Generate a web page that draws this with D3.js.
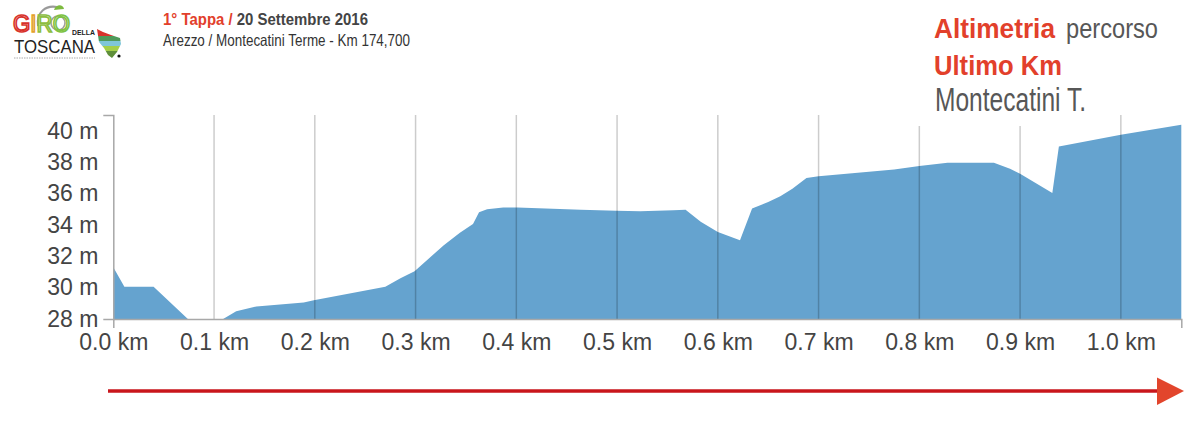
<!DOCTYPE html>
<html>
<head>
<meta charset="utf-8">
<script src="https://cdn.jsdelivr.net/npm/d3@7"></script>
<style>
  html, body { margin: 0; padding: 0; background: #fff; }
  svg { display: block; }
</style>
</head>
<body>
<svg id="chart" width="1200" height="421"></svg>
<script>
// ---- Data ----
const distanceKm = [0, 0.011, 0.040, 0.074, 0.109, 0.122, 0.142, 0.189, 0.199, 0.270, 0.285, 0.299,
  0.328, 0.344, 0.357, 0.363, 0.371, 0.387, 0.401, 0.464, 0.499, 0.523, 0.556, 0.568, 0.583,
  0.600, 0.622, 0.634, 0.650, 0.662, 0.674, 0.688, 0.700, 0.775, 0.800, 0.828, 0.874, 0.890,
  0.900, 0.932, 0.9385, 1.000, 1.06];
const elevationM = [31.3, 30.05, 30.05, 28, 28, 28.5, 28.8, 29.05, 29.2, 30.05, 30.6, 31.05,
  32.7, 33.5, 34.05, 34.8, 35.0, 35.1, 35.1, 34.97, 34.9, 34.87, 34.93, 34.97, 34.2,
  33.55, 33.02, 35.04, 35.46, 35.82, 36.3, 36.98, 37.09, 37.52, 37.75, 37.96, 37.96, 37.58,
  37.26, 36.03, 39.0, 39.74, 40.38];
const xTicks = [0, 0.1, 0.2, 0.3, 0.4, 0.5, 0.6, 0.7, 0.8, 0.9, 1.0];
const yTicks = [28, 30, 32, 34, 36, 38, 40];
const xDomain = [0, 1.06];
const yDomain = [28, 41];

const headerLine1Red = "1° Tappa / ";
const headerLine1Dark = "20 Settembre 2016";
const headerLine2 = "Arezzo / Montecatini Terme - Km 174,700";
const titleRed1 = "Altimetria";
const titleGray1 = "percorso";
const titleRed2 = "Ultimo Km";
const titleGray2 = "Montecatini T.";

// ---- Setup ----
const svg = d3.select("#chart");
const plotLeft = 113.3, plotRight = 1181.3, plotTop = 115, plotBottom = 319;
const x = d3.scaleLinear().domain(xDomain).range([plotLeft, plotRight]);
const y = d3.scaleLinear().domain(yDomain).range([plotBottom, plotTop]);
const data = distanceKm.map((d, i) => ({ d, e: elevationM[i] }));

const RED = "#e2402b";
const GRAY = "#575757";
const TXT = "'Liberation Sans Narrow','Liberation Sans',Arial,sans-serif";

// Area
svg.append("path")
  .datum(data)
  .attr("fill", "#65a3cf")
  .attr("d", d3.area().x(p => x(p.d)).y0(y(yDomain[0])).y1(p => y(p.e)));

// Gridlines
svg.append("g").selectAll("line")
  .data(xTicks.filter(t => t > 0))
  .join("line")
  .attr("x1", d => x(d)).attr("x2", d => x(d))
  .attr("y1", plotTop).attr("y2", plotBottom)
  .attr("stroke", "rgba(0,0,0,0.2)").attr("stroke-width", 1.5);

// Title background (covers gridline tops under the title)
svg.append("rect").attr("x", 840).attr("y", 0).attr("width", 262).attr("height", 126).attr("fill", "#fff");

// Axes
const xAxis = d3.axisBottom(x).tickValues(xTicks).tickFormat(d => d3.format(".1f")(d) + " km")
  .tickSizeInner(0).tickSizeOuter(9).tickPadding(15);
const yAxis = d3.axisLeft(y).tickValues(yTicks).tickFormat(d => d + " m")
  .tickSizeInner(0).tickSizeOuter(10).tickPadding(15);

const gx = svg.append("g").attr("transform", `translate(0,${plotBottom})`).call(xAxis);
const gy = svg.append("g").attr("transform", `translate(${plotLeft},0)`).call(yAxis);
[gx, gy].forEach(g => {
  g.select(".domain").attr("stroke", "#a8a8a8").attr("stroke-width", 1.5);
  g.selectAll("text").attr("font-family", "'Liberation Sans',Arial,sans-serif")
    .attr("font-size", 23).attr("fill", "#444");
});

// Arrow
svg.append("line").attr("x1", 108).attr("x2", 1160).attr("y1", 391).attr("y2", 391)
  .attr("stroke", "#c9161c").attr("stroke-width", 3.3);
svg.append("path").attr("d", "M1157,377.5 L1184,391 L1157,405 Z").attr("fill", "#e2452c");

// Header texts
function txt(s, x0, y0, size, weight, fill, len) {
  return svg.append("text").attr("x", x0).attr("y", y0).text(s)
    .attr("font-family", TXT).attr("font-size", size).attr("font-weight", weight)
    .attr("fill", fill).attr("textLength", len).attr("lengthAdjust", "spacingAndGlyphs");
}
const h1 = svg.append("text").attr("x", 163).attr("y", 24.5)
  .attr("font-family", TXT).attr("font-size", 16.5).attr("font-weight", "bold")
  .attr("textLength", 205).attr("lengthAdjust", "spacingAndGlyphs");
h1.append("tspan").attr("fill", RED).text(headerLine1Red);
h1.append("tspan").attr("fill", "#444").text(headerLine1Dark);
txt(headerLine2, 163, 45.5, 16.5, "normal", "#333", 247);

txt(titleRed1, 934, 37.5, 28, "bold", RED, 121);
txt(titleGray1, 1066, 37.5, 28, "normal", GRAY, 92);
txt(titleRed2, 934, 74.5, 28, "bold", RED, 128);
txt(titleGray2, 935, 111, 33, "normal", GRAY, 151);

// ---- Logo (simplified) ----
const logo = svg.append("g");
logo.append("path").attr("d", "M38,26 C36,12 46,5 57,7").attr("fill", "none").attr("stroke", "#9a9a9a").attr("stroke-width", 2);
logo.append("circle").attr("cx", 58).attr("cy", 23).attr("r", 7).attr("fill", "none").attr("stroke", "#a0a0a0").attr("stroke-width", 1.6);
logo.append("path").attr("d", "M54,10 C56,4 63,4 64,9 C60,9 57,10 54,10 Z").attr("fill", "#7dba3f");
const giroLetters = ["G", "I", "R", "O"];
const giroColors = ["#d8322b", "#e3a02c", "#8dbd3f", "#7ec242"];
const giroText = logo.append("text").attr("x", 13).attr("y", 32)
  .attr("font-family", "'Liberation Sans',Arial,sans-serif").attr("font-size", 24)
  .attr("fill", "none").attr("stroke-width", 1.7)
  .attr("textLength", 57).attr("lengthAdjust", "spacingAndGlyphs");
giroLetters.forEach((l, i) => giroText.append("tspan").attr("stroke", giroColors[i]).text(l));
logo.append("text").attr("x", 72).attr("y", 35).text("DELLA")
  .attr("font-family", "'Liberation Sans',Arial,sans-serif").attr("font-size", 6.5).attr("font-weight", "bold")
  .attr("fill", "#222").attr("textLength", 23).attr("lengthAdjust", "spacingAndGlyphs");
logo.append("text").attr("x", 14).attr("y", 53).text("TOSCANA")
  .attr("font-family", "'Liberation Sans',Arial,sans-serif").attr("font-size", 18.5)
  .attr("fill", "#222").attr("textLength", 81).attr("lengthAdjust", "spacingAndGlyphs");
const defs = svg.append("defs");
defs.append("clipPath").attr("id", "tusc").append("path")
  .attr("d", "M97,29 L103,32 L111,35 L120,38 L121,44 L117,52 L112,58 L108,55 L104,48 L99,42 Z");
const stripes = [[28, 36, "#d8322b"], [36, 41, "#4f9a5a"], [41, 46, "#7fc6d8"], [46, 51, "#a5cf4a"], [51, 60, "#5f8f3a"]];
const tg = logo.append("g").attr("clip-path", "url(#tusc)");
stripes.forEach(s => tg.append("rect").attr("x", 95).attr("y", s[0]).attr("width", 30).attr("height", s[1] - s[0]).attr("fill", s[2]));
logo.append("circle").attr("cx", 119).attr("cy", 56).attr("r", 1.6).attr("fill", "#111");
logo.append("line").attr("x1", 14).attr("x2", 95).attr("y1", 58).attr("y2", 58)
  .attr("stroke", "#aaa").attr("stroke-width", 1).attr("stroke-dasharray", "1.5,1");
</script>
</body>
</html>
